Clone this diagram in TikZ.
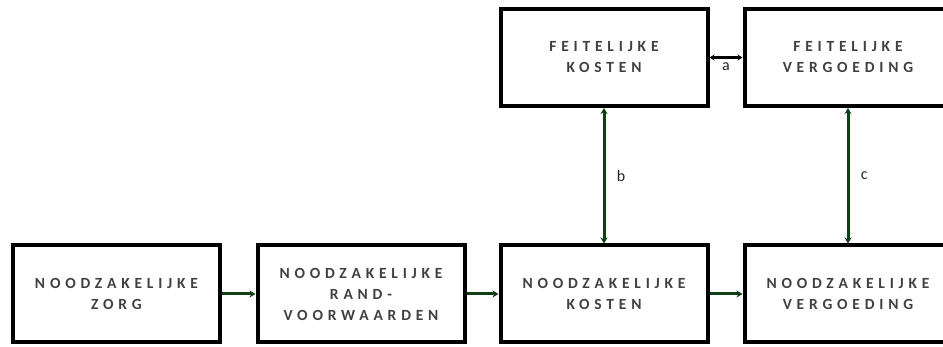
\documentclass[tikz,border=0pt]{standalone}
\usepackage{fontspec}
\usetikzlibrary{arrows.meta}
\setmainfont{Carlito}
\newfontfamily\boxfont[LetterSpace=31]{Carlito Bold}
\definecolor{linkgreen}{HTML}{0F3F12}
\definecolor{boxtext}{HTML}{404040}
\tikzset{
  stagebox/.style={draw=black, line width=4pt, minimum width=207pt, minimum height=97pt,
    align=center, text=boxtext, inner sep=0pt,
    font=\boxfont\fontsize{15.5}{21}\selectfont},
  flow/.style={draw=linkgreen, line width=3pt, -{Stealth[length=6pt,width=7pt]}},
  pair/.style={draw=linkgreen, line width=3pt, {Stealth[length=6pt,width=7pt]}-{Stealth[length=6pt,width=7pt]}},
  tie/.style={draw=black, line width=2.5pt, {Stealth[length=5pt,width=6pt]}-{Stealth[length=5pt,width=6pt]}},
  tag/.style={font=\fontsize{16}{17}\selectfont, text=black!85}
}
\begin{document}
\begin{tikzpicture}[x=1pt, y=-1pt]
  \useasboundingbox (0,0) rectangle (943,347);
  % lower row: necessary care chain
  \node[stagebox] (zorg) at (116.5,294) {NOODZAKELIJKE\\ZORG};
  \node[stagebox] (rand) at (361,294) {NOODZAKELIJKE\\RAND-\\VOORWAARDEN};
  \node[stagebox] (nkost) at (604,294) {NOODZAKELIJKE\\KOSTEN};
  \node[stagebox] (nverg) at (848,294) {NOODZAKELIJKE\\VERGOEDING};
  % upper row: actual values
  \node[stagebox] (fkost) at (604,57.5) {FEITELIJKE\\KOSTEN};
  \node[stagebox] (fverg) at (848,57.5) {FEITELIJKE\\VERGOEDING};
  % connectors
  \draw[flow] (zorg.east) -- (rand.west);
  \draw[flow] (rand.east) -- (nkost.west);
  \draw[flow] (nkost.east) -- (nverg.west);
  \draw[pair] (fkost.south) -- node[tag, right=8pt] {b} (nkost.north);
  \draw[pair] (fverg.south) -- node[tag, right=8pt] {c} (nverg.north);
  \draw[tie] (fkost.east) -- node[tag, below=1pt] {a} (fverg.west);
\end{tikzpicture}
\end{document}
